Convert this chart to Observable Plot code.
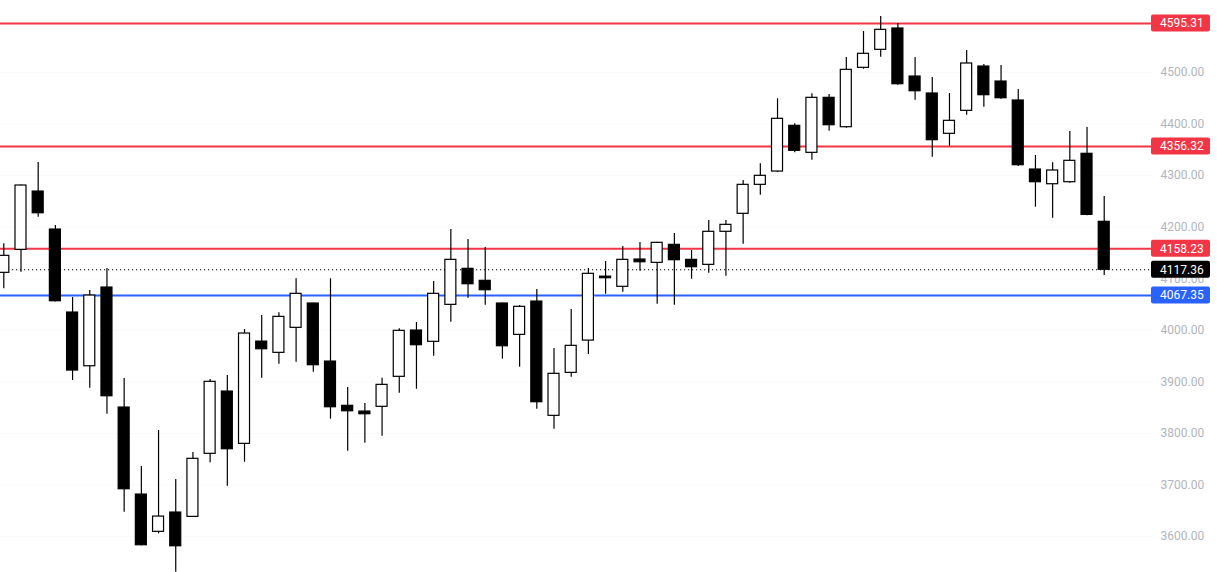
<!DOCTYPE html>
<html>
<head>
<meta charset="utf-8">
<script src="https://cdn.jsdelivr.net/npm/d3@7"></script>
<script src="https://cdn.jsdelivr.net/npm/@observablehq/plot@0.6"></script>
<style>
  html, body { margin: 0; padding: 0; background: #ffffff; }
  #chart svg { display: block; }
</style>
</head>
<body>
<div id="chart"></div>
<script>
// OHLC values (65 candles)
const opens  = [4111.4,4156.0,4269.1,4195.4,4034.4,3930.2,4082.9,3850.1,3681.3,3609.0,3646.4,3638.0,3760.3,3881.1,3779.7,3978.0,3956.2,4004.7,4051.9,3939.3,3853.4,3842.3,3851.5,3909.7,3999.5,3977.6,4049.3,4119.2,4095.9,4051.9,3991.1,4055.7,3834.0,3917.4,3980.0,4104.0,4084.3,4137.2,4130.8,4165.7,4136.6,4126.9,4191.0,4225.9,4282.1,4307.9,4396.6,4344.2,4450.9,4393.9,4509.1,4544.0,4585.4,4492.2,4459.3,4381.1,4425.7,4511.6,4482.5,4445.7,4311.8,4283.3,4287.2,4342.3,4210.4];
const highs  = [4167.7,4282.0,4325.4,4203.2,4063.5,4077.0,4119.8,3906.4,3735.6,3805.5,3710.4,3762.8,3904.4,3912.2,4001.4,4028.6,4033.8,4099.8,4052.5,4099.8,3888.9,3857.9,3906.9,4002.8,4015.0,4094.5,4195.4,4176.0,4160.5,4053.0,4047.9,4079.0,3964.6,4040.2,4119.8,4133.3,4162.4,4170.2,4170.5,4187.7,4154.7,4212.9,4212.9,4290.5,4322.9,4449.0,4400.5,4458.7,4457.3,4529.1,4579.5,4608.6,4595.1,4529.1,4490.3,4459.3,4542.7,4515.5,4513.6,4467.0,4339.0,4324.8,4385.5,4393.3,4259.4];
const lows   = [4080.4,4112.6,4219.3,4055.0,3902.5,3887.5,3837.0,3647.0,3582.0,3605.0,3530.6,3637.0,3742.8,3697.4,3744.0,3906.9,3934.0,3938.0,3918.6,3827.4,3765.3,3780.8,3794.4,3877.9,3885.6,3949.6,4015.6,4062.1,4048.6,3943.8,3928.3,3846.8,3808.0,3908.9,3952.9,4069.9,4073.8,4114.5,4050.5,4048.6,4099.0,4110.6,4104.8,4166.9,4262.0,4306.0,4344.2,4329.9,4386.0,4392.0,4506.4,4529.7,4475.4,4446.3,4335.7,4357.0,4417.2,4432.7,4448.2,4317.6,4238.7,4217.3,4285.2,4222.0,4106.2];
const closes = [4144.4,4280.8,4227.0,4056.3,3921.9,4067.4,3872.0,3691.6,3583.0,3638.6,3581.0,3750.6,3900.0,3769.2,3993.7,3963.2,4026.0,4070.7,3932.2,3850.7,3842.9,3837.1,3894.1,3998.9,3971.0,4070.7,4136.6,4089.3,4077.7,3969.0,4045.5,3860.4,3915.5,3969.8,4109.5,4101.0,4136.6,4132.0,4169.6,4135.9,4122.3,4191.0,4204.5,4282.1,4299.6,4410.2,4348.1,4450.9,4397.8,4505.2,4536.3,4582.8,4477.3,4463.7,4368.7,4406.3,4517.5,4456.0,4450.1,4320.2,4287.2,4309.9,4328.7,4223.9,4117.36];

// Horizontal price levels
const levelValues = [4595.31, 4356.32, 4158.23, 4067.35];
const levelKinds  = ["resistance", "resistance", "resistance", "support"];
const lastPrice   = 4117.36;

// Axis ticks
const yTicks = [3600, 3700, 3800, 3900, 4000, 4100, 4200, 4300, 4400, 4500];

const candles = opens.map((o, i) => ({
  i, open: o, high: highs[i], low: lows[i], close: closes[i], up: closes[i] >= o
}));
const levels = levelValues.map((v, k) => ({value: v, kind: levelKinds[k]}));
const colorOf = k => k === "support" ? "#2962ff" : "#f23645";

const W = 1217, H = 572;
const plotRight = 1151;
const labelW = 59, labelH = 17;

const chart = Plot.plot({
  width: W,
  height: H,
  marginLeft: 0,
  marginRight: W - plotRight,
  marginTop: 0,
  marginBottom: 0,
  style: {background: "#ffffff", fontFamily: "Roboto, 'Noto Sans', sans-serif", fontSize: "12px"},
  x: {domain: [-0.192, 66.75], axis: null},
  y: {domain: [3530.1, 4639.7], axis: null},
  marks: [
    Plot.gridY(yTicks, {stroke: "#fafafa", strokeOpacity: 1}),
    Plot.axisY(yTicks, {
      anchor: "right", tickSize: 0, tickPadding: 9, textAnchor: "start",
      tickFormat: d => d.toFixed(2), fill: "#b2b5be", fontSize: 12, label: null
    }),
    // price levels
    Plot.ruleY(levels, {y: "value", stroke: d => colorOf(d.kind), strokeWidth: 2}),
    Plot.ruleY([lastPrice], {stroke: "#000000", strokeWidth: 1, strokeDasharray: "1.2,2.8"}),
    // wicks
    Plot.ruleX(candles, {x: "i", y1: "low", y2: "high", stroke: "#000000", strokeWidth: 1.2}),
    // bodies
    Plot.rect(candles, {
      x1: d => d.i - 0.32, x2: d => d.i + 0.32,
      y1: "open", y2: "close",
      fill: d => d.up ? "#ffffff" : "#000000",
      stroke: "#000000", strokeWidth: 1.2
    })
  ]
});

document.getElementById("chart").appendChild(chart);

// price labels on the right price scale (positioned with the chart's y scale)
const y = chart.scale("y");
const svg = d3.select(chart);
const labelData = levels.map(d => ({value: d.value, fill: colorOf(d.kind)}))
  .concat([{value: lastPrice, fill: "#000000"}]);
const g = svg.append("g").attr("text-anchor", "start");
labelData.forEach(d => {
  const cy = y.apply(d.value);
  g.append("rect")
    .attr("x", plotRight).attr("y", cy - labelH / 2)
    .attr("width", labelW).attr("height", labelH)
    .attr("rx", 2).attr("fill", d.fill);
  g.append("text")
    .attr("x", plotRight + 9).attr("y", cy)
    .attr("dy", "0.36em")
    .attr("text-anchor", "start")
    .attr("fill", "#ffffff")
    .attr("font-family", "Roboto, 'Noto Sans', sans-serif")
    .attr("font-size", 12)
    .text(d.value.toFixed(2));
});
</script>
</body>
</html>
